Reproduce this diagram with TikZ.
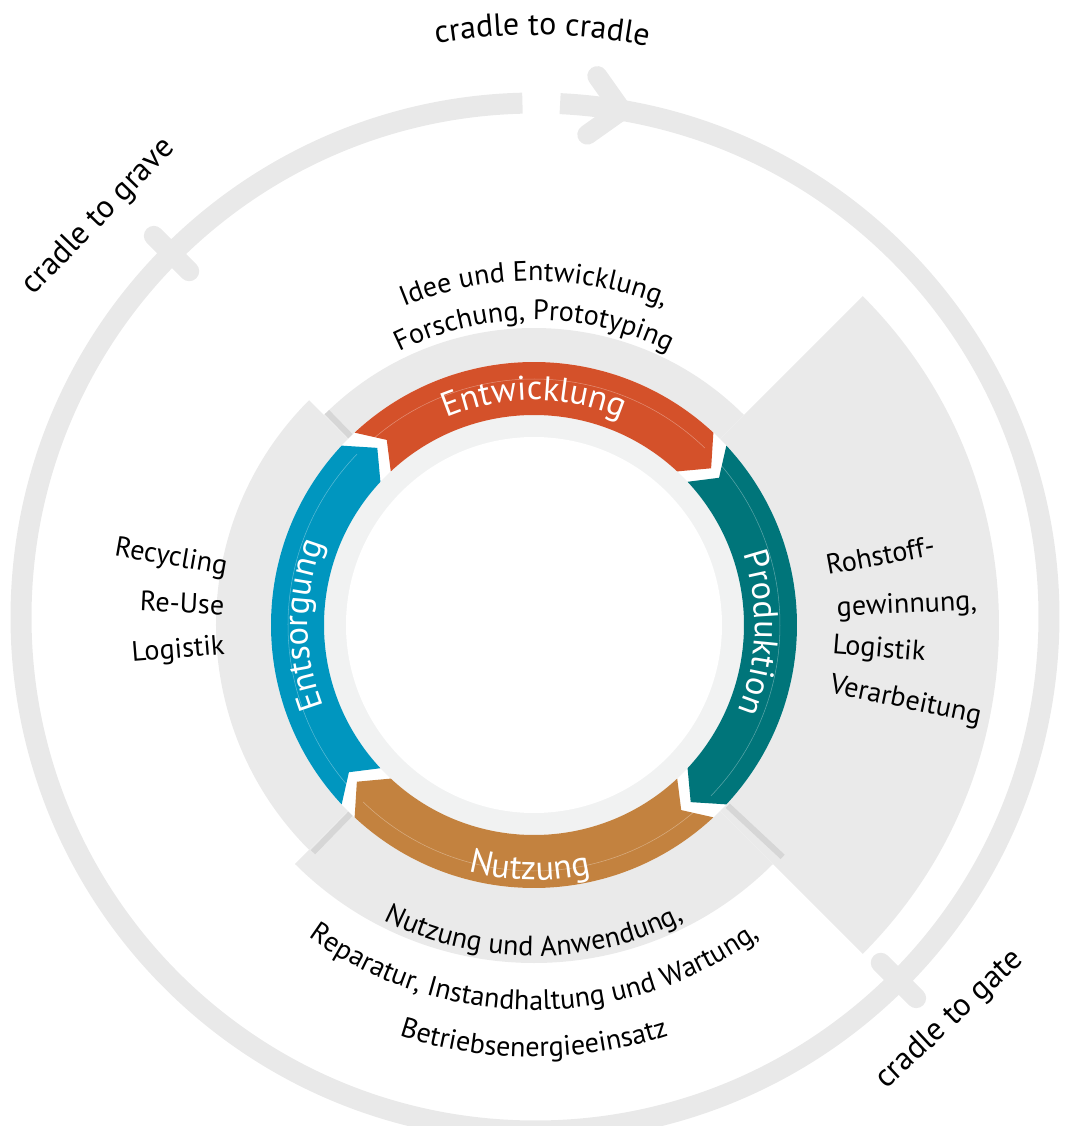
\documentclass[tikz,border=0pt]{standalone}
\usepackage{fontspec}
\setmainfont{PT Sans}
\usetikzlibrary{calc,decorations.text}

\definecolor{ringgray}{HTML}{E9E9E9}
\definecolor{sectorgray}{HTML}{EAEAEA}
\definecolor{shadowgray}{HTML}{D6D6D6}
\definecolor{innergray}{HTML}{F1F2F2}
\definecolor{devorange}{HTML}{D4512A}
\definecolor{prodteal}{HTML}{00757A}
\definecolor{useochre}{HTML}{C3823F}
\definecolor{dispblue}{HTML}{0096BF}

\newcommand{\bodyfont}{\fontsize{16}{19}\selectfont}
\newcommand{\bandfont}{\fontsize{19.5}{23}\selectfont}
\newcommand{\cradlefont}{\fontsize{18.2}{22}\selectfont}

\tikzset{
    ringline/.style   = {draw = ringgray, line width = 0.42cm},
    ringmark/.style   = {draw = ringgray, line width = 0.40cm, line cap = round, line join = round},
    sectorfill/.style = {fill = sectorgray},
    shadowline/.style = {draw = shadowgray, line width = 0.12cm},
    arctext/.style    = {decorate, decoration = {text along path, text align = center, text = {#1}}},
    sidetext/.style   = {inner sep = 0pt, font = \bodyfont},
    cradletext/.style = {inner sep = 0pt, font = \cradlefont},
}

% gray quarter behind the ring: start angle, end angle, radius
\newcommand{\graysector}[3]{%
    \fill[sectorfill] (0,0) -- (#1:#3) arc[start angle = #1, end angle = #2, radius = #3] -- cycle;}

% coloured ring arrow, running clockwise: tail angle, head angle, colour
\newcommand{\cyclearrow}[3]{%
    \fill[#3] (#1-2:263) arc[start angle = #1-2, end angle = #2+2, radius = 263]
        -- (#2-3.5:236.5) -- (#2+2:210)
        arc[start angle = #2+2, end angle = #1-2, radius = 210]
        -- (#1-6.5:236.5) -- cycle;
    \draw[white, opacity = 0.35, line width = 0.3pt]
        (#1-4:246) arc[start angle = #1-4, end angle = #2+1, radius = 246];}

\begin{document}
\begin{tikzpicture}[x = 0.02cm, y = 0.02cm]
    \useasboundingbox (-535,-509) rectangle (536,617);

    % ---------------------------------------------------------------------------
    % Outer ring
    % ---------------------------------------------------------------------------
    \coordinate (O) at (0,0);
    \coordinate (Tip)   at (80.3:514);
    \coordinate (Grave) at (135:514);
    \coordinate (Gate)  at (-45:514);

    \draw[ringline] (87.2:514) arc[start angle = 87.2, end angle = -268.6, radius = 514];
    \draw[ringmark] (Tip) ++(125.3:42) -- (Tip) -- ++(215.3:42);         % cradle to cradle
    \draw[ringmark] (135:489) -- (135:539);                               % cradle to grave
    \draw[ringmark] (-45:489) -- (-45:539);                               % cradle to gate

    \path[arctext = {|\cradlefont|cradle to cradle}]
        (109.3:582) arc[start angle = 109.3, end angle = 69.3, radius = 582];
    \node[cradletext, rotate = 46] (GraveLabel) at (-436,400)  {cradle to grave};
    \node[cradletext, rotate = 43] (GateLabel)  at (415,-403)  {cradle to gate};

    \begin{scope}[shift = {(-1,-8)}]
    \coordinate (C) at (0,0);

    % ---------------------------------------------------------------------------
    % Gray sectors
    % ---------------------------------------------------------------------------
    \graysector{-45}{45}{465}
    \graysector{45}{135}{297}
    \draw[shadowline] (-43:265) -- (-43:340);
    \graysector{225}{315}{338}
    \draw[shadowline] (134.2:263) -- (134.2:297);
    \draw[shadowline] (-134.2:263) -- (-134.2:317);
    \graysector{135}{225}{318}

    % ---------------------------------------------------------------------------
    % Inner ring with arrows
    % ---------------------------------------------------------------------------
    \fill[white] (C) circle (263);
    \fill[innergray] (C) circle (210);
    \fill[white] (C) circle (188);

    \cyclearrow{135}{45}{devorange}
    \cyclearrow{45}{-45}{prodteal}
    \cyclearrow{-45}{-135}{useochre}
    \cyclearrow{225}{135}{dispblue}

    \path[arctext = {|\bandfont\color{white}|Entwicklung}]
        (130:225) arc[start angle = 130, end angle = 50, radius = 225];
    \path[arctext = {|\bandfont\color{white}|Produktion}]
        (38:221) arc[start angle = 38, end angle = -42, radius = 221];
    \path[arctext = {|\bandfont\color{white}|Nutzung}]
        (-131:255) arc[start angle = -131, end angle = -51, radius = 255];
    \path[arctext = {|\bandfont\color{white}|Entsorgung}]
        (220:226) arc[start angle = 220, end angle = 140, radius = 226];

    % ---------------------------------------------------------------------------
    % Texts round the ring
    % ---------------------------------------------------------------------------
    \path[arctext = {|\bodyfont|Idee und Entwicklung{,}}]
        (125:344) arc[start angle = 125, end angle = 55, radius = 344];
    \path[arctext = {|\bodyfont|Forschung{,} Prototyping}]
        (130:305) arc[start angle = 130, end angle = 50, radius = 305];

    \path[arctext = {|\bodyfont|Nutzung und Anwendung{,}}]
        (-135:331) arc[start angle = -135, end angle = -45, radius = 331];
    \path[arctext = {|\bodyfont|Reparatur{,} Instandhaltung und Wartung{,}}]
        (-145:385) arc[start angle = -145, end angle = -35, radius = 385];
    \path[arctext = {|\bodyfont|Betriebsenergieeinsatz}]
        (-120:432) arc[start angle = -120, end angle = -60, radius = 432];

    \node[sidetext, anchor = mid west, rotate = 10.5]  (Rohstoff)  at (10.5:298) {Rohstoff-};
    \node[sidetext, anchor = mid west, rotate = 2.5]   (Gewinnung) at (2.5:303)  {gewinnung,};
    \node[sidetext, anchor = mid west, rotate = -4.6]  (LogistikR) at (-4.6:299) {Logistik};
    \node[sidetext, anchor = mid west, rotate = -12]   (Verarb)    at (-12:302)  {Verarbeitung};

    \node[sidetext, anchor = mid east, rotate = -10]   (Recycling) at (170:312)  {Recycling};
    \node[sidetext, anchor = mid east, rotate = -2.7]  (ReUse)     at (177.3:310) {Re-Use};
    \node[sidetext, anchor = mid east, rotate = 4.6]   (LogistikL) at (184.6:310) {Logistik};
    \end{scope}

\end{tikzpicture}
\end{document}
